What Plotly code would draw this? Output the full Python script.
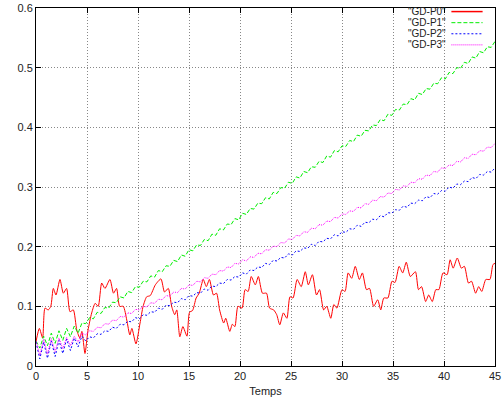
import plotly.graph_objects as go

# ---- data ----
t_p0 = [0, 0.33, 0.65, 0.88, 1.2, 1.45, 1.7, 1.96, 2.35, 2.68, 3.0, 3.33, 3.66, 4.0, 4.3, 4.5, 4.8,
        5.1, 5.46, 5.8, 6.1, 6.44, 6.76, 7.25, 7.6, 7.9, 8.2, 8.56, 8.9, 9.2, 9.4, 9.8,
        10.2, 10.5, 10.85, 11.2, 11.7, 12.25, 12.6, 12.97, 13.3, 13.6, 13.8, 14.1, 14.4, 14.8,
        15.05, 15.35, 15.7, 16.0, 16.4, 16.7, 17.0, 17.4, 17.7, 18.0, 18.4, 18.6, 19.0, 19.25, 19.5, 19.8,
        20.2, 20.5, 20.8, 21.1, 21.5, 21.8, 22.2, 22.6, 22.9, 23.3, 23.6, 23.9, 24.25, 24.6, 24.9,
        25.2, 25.6, 26.0, 26.4, 26.7, 27.1, 27.5, 27.8, 28.2, 28.5, 28.9, 29.2, 29.5,
        30.0, 30.3, 30.6, 30.95, 31.3, 31.7, 32.0, 32.4, 32.7, 33.1, 33.5, 33.8, 34.1, 34.5, 34.9,
        35.2, 35.6, 35.95, 36.3, 36.7, 37.2, 37.5, 37.8, 38.2, 38.5, 38.85, 39.2, 39.5, 39.9,
        40.3, 40.6, 40.9, 41.3, 41.7, 42.0, 42.4, 42.7, 43.1, 43.4, 43.7, 44.1, 44.5, 44.8, 45.0]
gd_p0 = [0.041, 0.063, 0.047, 0.097, 0.094, 0.100, 0.130, 0.119, 0.145, 0.122, 0.130, 0.091, 0.094, 0.060, 0.047, 0.058, 0.021,
         0.060, 0.089, 0.105, 0.100, 0.139, 0.130, 0.145, 0.122, 0.130, 0.100, 0.100, 0.077, 0.052, 0.063, 0.037,
         0.072, 0.100, 0.116, 0.118, 0.136, 0.146, 0.124, 0.130, 0.100, 0.086, 0.094, 0.049, 0.066, 0.050,
         0.090, 0.093, 0.114, 0.122, 0.145, 0.133, 0.145, 0.119, 0.122, 0.094, 0.072, 0.080, 0.058, 0.070, 0.066, 0.100,
         0.097, 0.128, 0.125, 0.150, 0.136, 0.150, 0.122, 0.122, 0.097, 0.094, 0.086, 0.069, 0.089, 0.080, 0.116,
         0.114, 0.145, 0.133, 0.158, 0.136, 0.153, 0.119, 0.128, 0.094, 0.100, 0.080, 0.103, 0.097,
         0.128, 0.125, 0.156, 0.147, 0.167, 0.145, 0.156, 0.128, 0.130, 0.100, 0.111, 0.094, 0.114, 0.114, 0.142,
         0.140, 0.167, 0.156, 0.174, 0.150, 0.158, 0.128, 0.133, 0.108, 0.119, 0.108, 0.128, 0.128, 0.156,
         0.153, 0.178, 0.164, 0.181, 0.164, 0.167, 0.139, 0.142, 0.122, 0.133, 0.125, 0.145, 0.145, 0.170, 0.172]

t_lin = [0.0, 0.375, 0.75, 1.125, 1.5, 1.875, 2.25, 2.625, 3.0, 3.375, 3.75, 4.125, 4.5, 4.875,
         5.25, 5.625, 6.0, 6.375, 6.75, 7.125, 7.5, 7.875, 8.25, 8.625, 9.0, 9.375, 9.75,
         10.125, 10.5, 10.875, 11.25, 11.625, 12.0, 12.375, 12.75, 13.125, 13.5, 13.875, 14.25, 14.625,
         15.0, 15.375, 15.75, 16.125, 16.5, 16.875, 17.25, 17.625, 18.0, 18.375, 18.75, 19.125, 19.5, 19.875,
         20.25, 20.625, 21.0, 21.375, 21.75, 22.125, 22.5, 22.875, 23.25, 23.625, 24.0, 24.375, 24.75,
         25.125, 25.5, 25.875, 26.25, 26.625, 27.0, 27.375, 27.75, 28.125, 28.5, 28.875, 29.25, 29.625,
         30.0, 30.375, 30.75, 31.125, 31.5, 31.875, 32.25, 32.625, 33.0, 33.375, 33.75, 34.125, 34.5, 34.875,
         35.25, 35.625, 36.0, 36.375, 36.75, 37.125, 37.5, 37.875, 38.25, 38.625, 39.0, 39.375, 39.75,
         40.125, 40.5, 40.875, 41.25, 41.625, 42.0, 42.375, 42.75, 43.125, 43.5, 43.875, 44.25, 44.625, 45.0]

gd_p1 = [0.042, 0.030, 0.050, 0.034, 0.055, 0.038, 0.059, 0.043, 0.063, 0.049, 0.067, 0.055, 0.072, 0.071,
         0.081, 0.079, 0.090, 0.088, 0.098, 0.097, 0.107, 0.106, 0.116, 0.114, 0.125, 0.123, 0.133,
         0.132, 0.142, 0.141, 0.151, 0.149, 0.160, 0.158, 0.168, 0.167, 0.177, 0.175, 0.186, 0.184,
         0.195, 0.193, 0.203, 0.202, 0.212, 0.210, 0.221, 0.219, 0.230, 0.228, 0.238, 0.237, 0.247, 0.245,
         0.256, 0.254, 0.264, 0.263, 0.273, 0.272, 0.282, 0.280, 0.291, 0.289, 0.299, 0.298, 0.308,
         0.306, 0.317, 0.315, 0.326, 0.324, 0.334, 0.333, 0.343, 0.341, 0.352, 0.350, 0.361, 0.359,
         0.369, 0.368, 0.378, 0.376, 0.387, 0.385, 0.395, 0.394, 0.404, 0.403, 0.413, 0.411, 0.422, 0.420,
         0.430, 0.429, 0.439, 0.438, 0.448, 0.446, 0.457, 0.455, 0.465, 0.464, 0.474, 0.473, 0.483,
         0.481, 0.492, 0.490, 0.500, 0.499, 0.509, 0.507, 0.518, 0.516, 0.527, 0.525, 0.535, 0.534, 0.544]

gd_p2 = [0.040, 0.012, 0.040, 0.013, 0.042, 0.016, 0.043, 0.021, 0.045, 0.026, 0.047, 0.032, 0.050, 0.042,
         0.049, 0.047, 0.054, 0.053, 0.059, 0.058, 0.065, 0.063, 0.070, 0.069, 0.075, 0.074, 0.081,
         0.079, 0.086, 0.085, 0.091, 0.090, 0.097, 0.095, 0.102, 0.101, 0.107, 0.106, 0.113, 0.111,
         0.118, 0.117, 0.123, 0.122, 0.129, 0.127, 0.134, 0.133, 0.139, 0.138, 0.145, 0.144, 0.150, 0.149,
         0.156, 0.154, 0.161, 0.160, 0.166, 0.165, 0.172, 0.170, 0.177, 0.176, 0.182, 0.181, 0.188,
         0.186, 0.193, 0.192, 0.198, 0.197, 0.204, 0.202, 0.209, 0.208, 0.214, 0.213, 0.220, 0.218,
         0.225, 0.224, 0.230, 0.229, 0.236, 0.234, 0.241, 0.240, 0.246, 0.245, 0.252, 0.250, 0.257, 0.256,
         0.262, 0.261, 0.268, 0.266, 0.273, 0.272, 0.278, 0.277, 0.284, 0.282, 0.289, 0.288, 0.294,
         0.293, 0.300, 0.298, 0.305, 0.304, 0.310, 0.309, 0.316, 0.314, 0.321, 0.320, 0.326, 0.325, 0.332]

gd_p3 = [0.042, 0.018, 0.045, 0.020, 0.046, 0.024, 0.047, 0.029, 0.048, 0.034, 0.050, 0.040, 0.055, 0.052,
         0.059, 0.058, 0.065, 0.064, 0.071, 0.070, 0.077, 0.076, 0.083, 0.082, 0.089, 0.088, 0.095,
         0.094, 0.100, 0.099, 0.106, 0.105, 0.112, 0.111, 0.118, 0.117, 0.124, 0.123, 0.130, 0.129,
         0.136, 0.135, 0.142, 0.141, 0.148, 0.147, 0.154, 0.153, 0.160, 0.159, 0.166, 0.165, 0.172, 0.171,
         0.178, 0.176, 0.183, 0.182, 0.189, 0.188, 0.195, 0.194, 0.201, 0.200, 0.207, 0.206, 0.213,
         0.212, 0.219, 0.218, 0.225, 0.224, 0.231, 0.230, 0.237, 0.236, 0.243, 0.242, 0.249, 0.248,
         0.255, 0.254, 0.260, 0.259, 0.266, 0.265, 0.272, 0.271, 0.278, 0.277, 0.284, 0.283, 0.290, 0.289,
         0.296, 0.295, 0.302, 0.301, 0.308, 0.307, 0.314, 0.313, 0.320, 0.319, 0.326, 0.325, 0.332,
         0.331, 0.337, 0.336, 0.343, 0.342, 0.349, 0.348, 0.355, 0.354, 0.361, 0.360, 0.367, 0.366, 0.373]

names = ['"GD-P0"', '"GD-P1"', '"GD-P2"', '"GD-P3"']
colors = ['#ff0000', '#00ee00', '#0000ff', '#ff00ff']
dashes = ['solid', '4px,2px', '2px,2px', '1px,1px']

x_ticks = [0, 5, 10, 15, 20, 25, 30, 35, 40, 45]
y_ticks = [0, 0.1, 0.2, 0.3, 0.4, 0.5, 0.6]
y_tick_labels = ['0', '0.1', '0.2', '0.3', '0.4', '0.5', '0.6']

FONT = 'Liberation Sans, Arial, sans-serif'

fig = go.Figure()
series = [(t_p0, gd_p0), (t_lin, gd_p1), (t_lin, gd_p2), (t_lin, gd_p3)]
for i, (xs, ys) in enumerate(series):
    fig.add_trace(go.Scatter(
        x=xs, y=ys, mode='lines', name=names[i],
        line=dict(color=colors[i], width=1, dash=dashes[i],
                  shape='spline' if i == 0 else 'linear', smoothing=0.6),
        showlegend=False, hoverinfo='skip'))

# manual gnuplot-style key: text on left, sample on right
key_rows = [0.990, 0.959, 0.928, 0.897]
for i in range(4):
    fig.add_annotation(x=0.895, y=key_rows[i], xref='paper', yref='paper',
                       text=names[i], showarrow=False, xanchor='right', yanchor='middle',
                       borderpad=0,
                       font=dict(family=FONT, size=10, color='#222'))
    fig.add_shape(type='line', xref='paper', yref='paper',
                  x0=0.905, x1=0.973, y0=key_rows[i], y1=key_rows[i],
                  line=dict(color=colors[i], width=1.5 if i == 0 else 1, dash=dashes[i]))

axis_common = dict(showline=True, linecolor='black', linewidth=1, mirror='allticks',
                   ticks='inside', ticklen=5, tickcolor='black',
                   showgrid=True, gridcolor='#888888', griddash='1px,2px', gridwidth=1,
                   zeroline=False, automargin=False,
                   tickfont=dict(family=FONT, size=11, color='#222'))

fig.update_xaxes(range=[0, 45], tickvals=x_ticks, **axis_common,
                 title=dict(text='Temps', standoff=6,
                            font=dict(family=FONT, size=11, color='#222')))
fig.update_yaxes(range=[0, 0.6], tickvals=y_ticks, ticktext=y_tick_labels, **axis_common)

fig.update_layout(width=502, height=405,
                  margin=dict(l=36, r=7, t=8, b=39),
                  paper_bgcolor='white', plot_bgcolor='white')

fig.write_html('out.html', config={'displayModeBar': False},
               post_script="document.body.style.margin='0';")
